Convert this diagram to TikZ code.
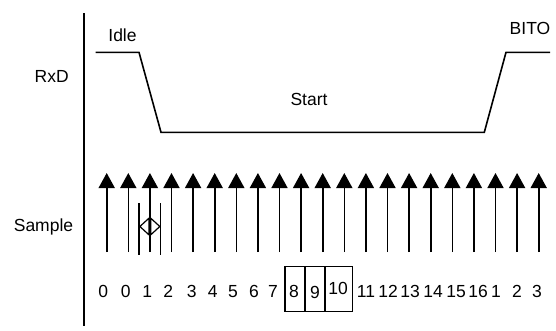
\documentclass[tikz,border=0pt]{standalone}
\usepackage{fontspec}
\setmainfont{Liberation Sans}
\usetikzlibrary{arrows.meta}
\begin{document}
\begin{tikzpicture}[x=1pt, y=-1pt,
    wave/.style={line width=1.6pt, line join=miter},
    sample/.style={line width=1.6pt, -{Triangle[length=15pt, width=16pt]}},
    lbl/.style={anchor=base, inner sep=0pt, font=\fontsize{17.5}{20}\selectfont},
    cnt/.style={lbl},
    slot/.style={draw, line width=1.2pt, minimum width=20pt, minimum height=45pt, inner sep=0pt}]
    \useasboundingbox (0,0) rectangle (556,330);
    % Axis
    \draw[line width=1.6pt] (84,13) coordinate (axtop) -- (84,326) coordinate (axbot);
    % Signal names
    \node[lbl] (rxd) at (51.7,82) {RxD};
    \node[lbl] (smp) at (43.5,231) {Sample};
    % RxD waveform
    \draw[wave] (95.7,52.3) coordinate (w0) -- (139,52.3) coordinate (w1)
        -- (161,132.3) coordinate (w2) -- (484.3,132.3) coordinate (w3)
        -- (506,52.3) coordinate (w4) -- (550,52.3) coordinate (w5);
    \node[lbl] (idle) at (122.5,41) {Idle};
    \node[lbl] (start) at (309,105) {Start};
    \node[lbl] (bito) at (530,34) {BITO};
    % Sample arrows
    \foreach \i in {0,...,20} {
        \draw[sample] (106.7+21.6*\i,252) coordinate (s\i) -- (106.7+21.6*\i,173) coordinate (t\i);
    }
    % Sample width
    \draw[line width=1.2pt] (139,203) coordinate (m0) -- (139,255);
    \draw[line width=1.2pt] (160.7,203) coordinate (m1) -- (160.7,255);
    \draw[line width=1.2pt, {Triangle[open, length=10.5pt, width=19pt]}-{Triangle[open, length=10.5pt, width=19pt]}]
        (139,226.5) coordinate (d0) -- (160.7,226.5) coordinate (d1);
    % Counter values
    \foreach \x/\v [count=\k] in {103.3/0,125.7/0,147.3/1,168.3/2,191.7/3,212.7/4,233/5,254/6,273/7,
        366/11,388/12,410/13,433/14,456/15,478/16,496/1,517/2,537/3} {
        \node[cnt] (c\k) at (\x,297) {\v};
    }
    % Middle samples
    \node[slot] (b8) at (295,289.2) {};
    \node[slot] (b9) at (315,289.2) {};
    \node[slot, minimum width=27.7pt] (b10) at (338.85,289.2) {};
    \node[cnt] (c8) at (294,297) {8};
    \node[cnt] (c9) at (315,298.5) {9};
    \node[cnt] (c10) at (338,294.5) {10};
\end{tikzpicture}
\end{document}
